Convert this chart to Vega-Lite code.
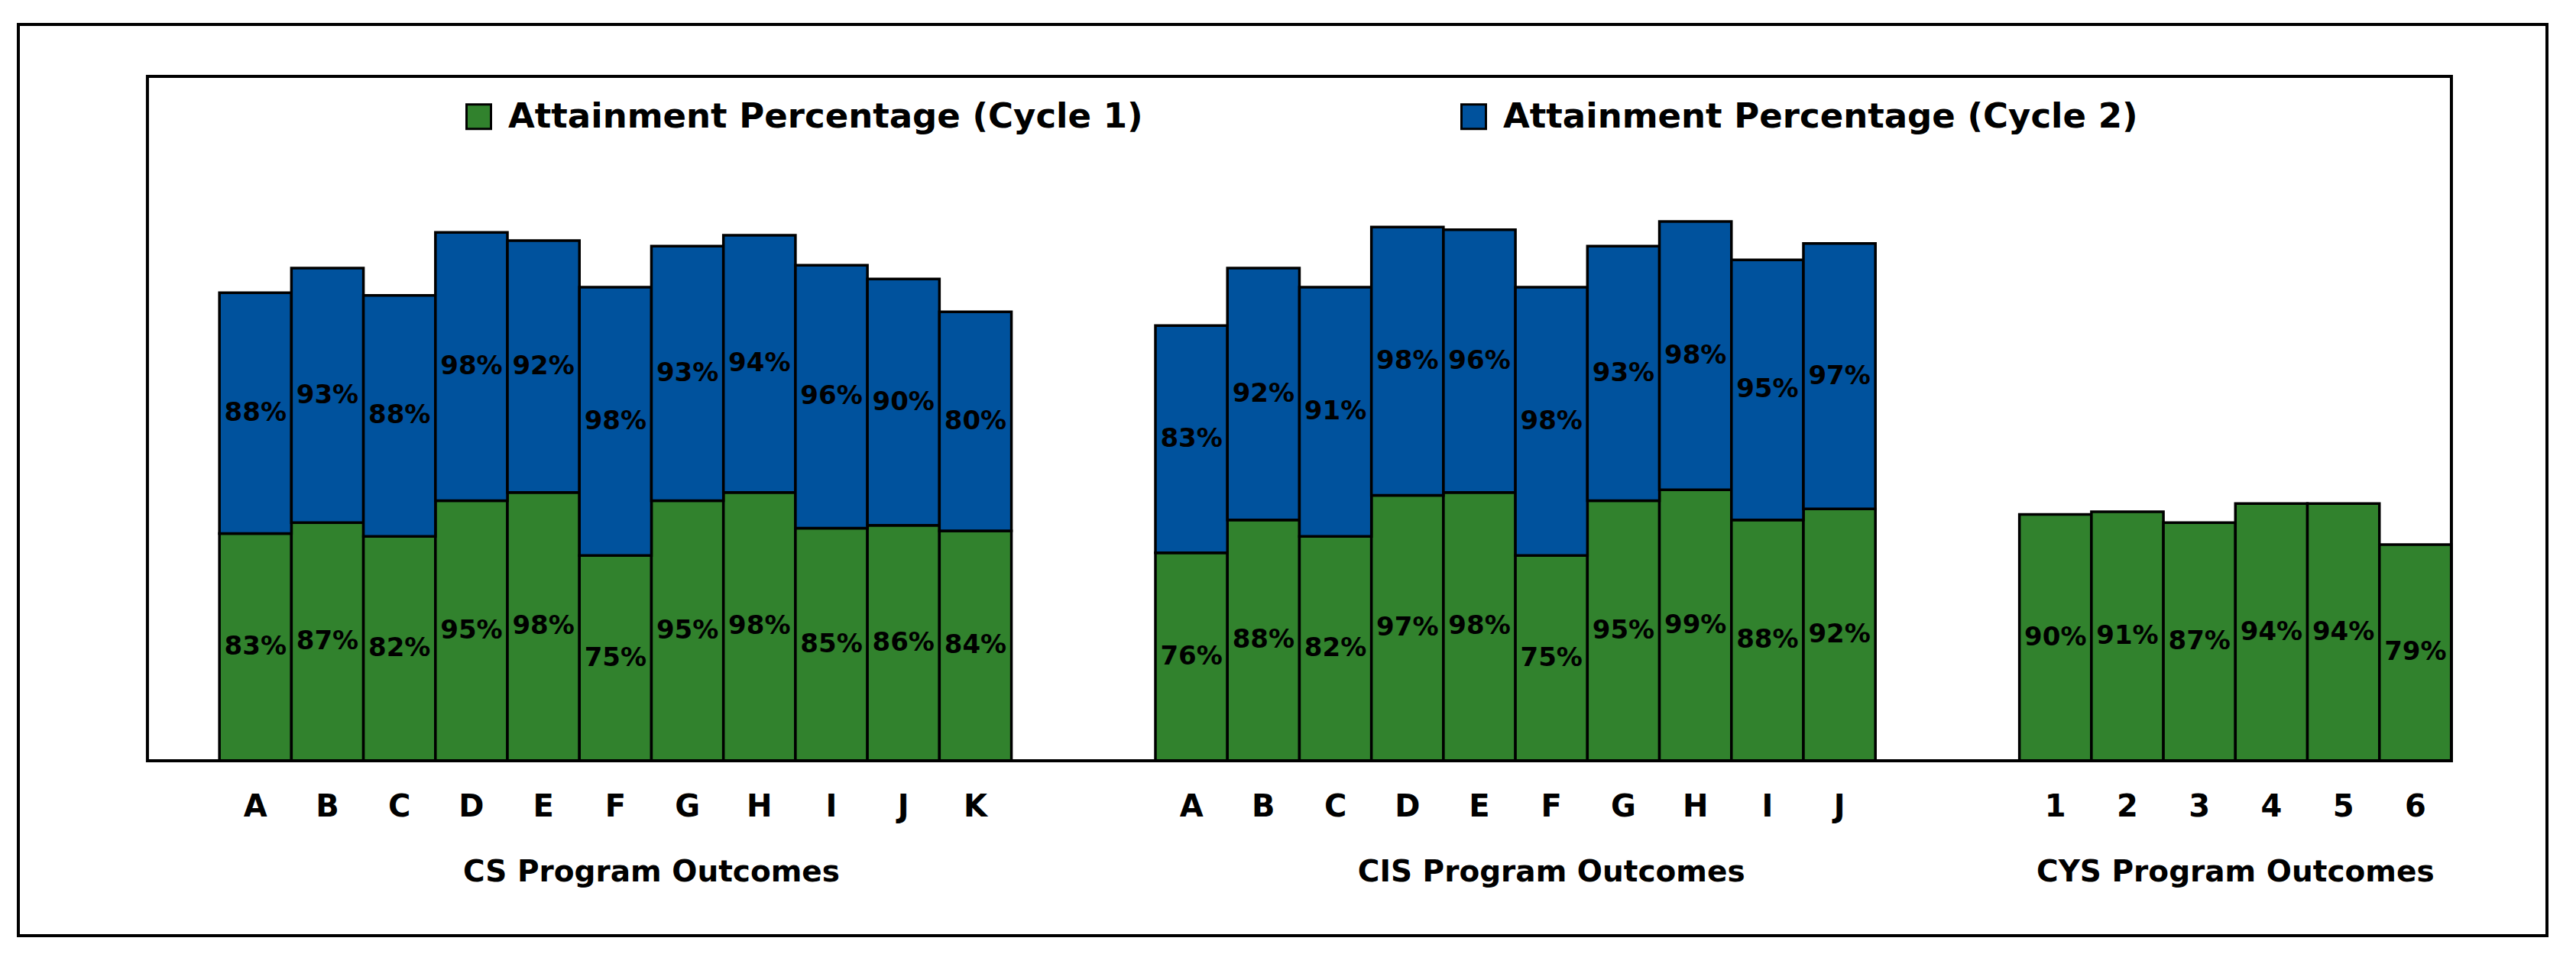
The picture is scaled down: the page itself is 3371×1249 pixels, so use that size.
{
  "$schema": "https://vega.github.io/schema/vega-lite/v6.json",
  "width": 3309,
  "height": 1193,
  "autosize": {"type": "none"},
  "padding": {"left": 24, "top": 32, "right": 38, "bottom": 24},
  "background": "white",
  "config": {
    "view": {"stroke": "black", "strokeWidth": 4},
    "font": "DejaVu Sans"
  },
  "data": {
    "values": [
      {"kind": "bar", "slot": "CS-A", "series": "Attainment Percentage (Cycle 1)", "pct": 0.83},
      {"kind": "bar", "slot": "CS-B", "series": "Attainment Percentage (Cycle 1)", "pct": 0.87},
      {"kind": "bar", "slot": "CS-C", "series": "Attainment Percentage (Cycle 1)", "pct": 0.82},
      {"kind": "bar", "slot": "CS-D", "series": "Attainment Percentage (Cycle 1)", "pct": 0.95},
      {"kind": "bar", "slot": "CS-E", "series": "Attainment Percentage (Cycle 1)", "pct": 0.98},
      {"kind": "bar", "slot": "CS-F", "series": "Attainment Percentage (Cycle 1)", "pct": 0.75},
      {"kind": "bar", "slot": "CS-G", "series": "Attainment Percentage (Cycle 1)", "pct": 0.95},
      {"kind": "bar", "slot": "CS-H", "series": "Attainment Percentage (Cycle 1)", "pct": 0.98},
      {"kind": "bar", "slot": "CS-I", "series": "Attainment Percentage (Cycle 1)", "pct": 0.85},
      {"kind": "bar", "slot": "CS-J", "series": "Attainment Percentage (Cycle 1)", "pct": 0.86},
      {"kind": "bar", "slot": "CS-K", "series": "Attainment Percentage (Cycle 1)", "pct": 0.84},
      {"kind": "bar", "slot": "CS-A", "series": "Attainment Percentage (Cycle 2)", "pct": 0.88},
      {"kind": "bar", "slot": "CS-B", "series": "Attainment Percentage (Cycle 2)", "pct": 0.93},
      {"kind": "bar", "slot": "CS-C", "series": "Attainment Percentage (Cycle 2)", "pct": 0.88},
      {"kind": "bar", "slot": "CS-D", "series": "Attainment Percentage (Cycle 2)", "pct": 0.98},
      {"kind": "bar", "slot": "CS-E", "series": "Attainment Percentage (Cycle 2)", "pct": 0.92},
      {"kind": "bar", "slot": "CS-F", "series": "Attainment Percentage (Cycle 2)", "pct": 0.98},
      {"kind": "bar", "slot": "CS-G", "series": "Attainment Percentage (Cycle 2)", "pct": 0.93},
      {"kind": "bar", "slot": "CS-H", "series": "Attainment Percentage (Cycle 2)", "pct": 0.94},
      {"kind": "bar", "slot": "CS-I", "series": "Attainment Percentage (Cycle 2)", "pct": 0.96},
      {"kind": "bar", "slot": "CS-J", "series": "Attainment Percentage (Cycle 2)", "pct": 0.90},
      {"kind": "bar", "slot": "CS-K", "series": "Attainment Percentage (Cycle 2)", "pct": 0.80},
      {"kind": "bar", "slot": "CIS-A", "series": "Attainment Percentage (Cycle 1)", "pct": 0.76},
      {"kind": "bar", "slot": "CIS-B", "series": "Attainment Percentage (Cycle 1)", "pct": 0.88},
      {"kind": "bar", "slot": "CIS-C", "series": "Attainment Percentage (Cycle 1)", "pct": 0.82},
      {"kind": "bar", "slot": "CIS-D", "series": "Attainment Percentage (Cycle 1)", "pct": 0.97},
      {"kind": "bar", "slot": "CIS-E", "series": "Attainment Percentage (Cycle 1)", "pct": 0.98},
      {"kind": "bar", "slot": "CIS-F", "series": "Attainment Percentage (Cycle 1)", "pct": 0.75},
      {"kind": "bar", "slot": "CIS-G", "series": "Attainment Percentage (Cycle 1)", "pct": 0.95},
      {"kind": "bar", "slot": "CIS-H", "series": "Attainment Percentage (Cycle 1)", "pct": 0.99},
      {"kind": "bar", "slot": "CIS-I", "series": "Attainment Percentage (Cycle 1)", "pct": 0.88},
      {"kind": "bar", "slot": "CIS-J", "series": "Attainment Percentage (Cycle 1)", "pct": 0.92},
      {"kind": "bar", "slot": "CIS-A", "series": "Attainment Percentage (Cycle 2)", "pct": 0.83},
      {"kind": "bar", "slot": "CIS-B", "series": "Attainment Percentage (Cycle 2)", "pct": 0.92},
      {"kind": "bar", "slot": "CIS-C", "series": "Attainment Percentage (Cycle 2)", "pct": 0.91},
      {"kind": "bar", "slot": "CIS-D", "series": "Attainment Percentage (Cycle 2)", "pct": 0.98},
      {"kind": "bar", "slot": "CIS-E", "series": "Attainment Percentage (Cycle 2)", "pct": 0.96},
      {"kind": "bar", "slot": "CIS-F", "series": "Attainment Percentage (Cycle 2)", "pct": 0.98},
      {"kind": "bar", "slot": "CIS-G", "series": "Attainment Percentage (Cycle 2)", "pct": 0.93},
      {"kind": "bar", "slot": "CIS-H", "series": "Attainment Percentage (Cycle 2)", "pct": 0.98},
      {"kind": "bar", "slot": "CIS-I", "series": "Attainment Percentage (Cycle 2)", "pct": 0.95},
      {"kind": "bar", "slot": "CIS-J", "series": "Attainment Percentage (Cycle 2)", "pct": 0.97},
      {"kind": "bar", "slot": "CYS-1", "series": "Attainment Percentage (Cycle 1)", "pct": 0.90},
      {"kind": "bar", "slot": "CYS-2", "series": "Attainment Percentage (Cycle 1)", "pct": 0.91},
      {"kind": "bar", "slot": "CYS-3", "series": "Attainment Percentage (Cycle 1)", "pct": 0.87},
      {"kind": "bar", "slot": "CYS-4", "series": "Attainment Percentage (Cycle 1)", "pct": 0.94},
      {"kind": "bar", "slot": "CYS-5", "series": "Attainment Percentage (Cycle 1)", "pct": 0.94},
      {"kind": "bar", "slot": "CYS-6", "series": "Attainment Percentage (Cycle 1)", "pct": 0.79},
      {"kind": "title", "slot": "CS-G", "group": "CS Program Outcomes"},
      {"kind": "title", "slot": "CYS-4", "group": "CYS Program Outcomes"},
      {"kind": "title-mid", "slot": "CIS-F", "group": "CIS Program Outcomes"},
      {"kind": "frame", "slot": "pad0"}
    ]
  },
  "layer": [
    {
      "transform": [{"filter": "datum.kind == 'bar'"}],
      "mark": {"type": "bar", "stroke": "black", "strokeWidth": 3.5},
      "encoding": {
        "x": {
          "field": "slot",
          "type": "nominal",
          "sort": null,
          "scale": {
            "domain": ["padL", "pad0", "CS-A", "CS-B", "CS-C", "CS-D", "CS-E", "CS-F", "CS-G", "CS-H", "CS-I", "CS-J", "CS-K", "pad1", "pad2", "CIS-A", "CIS-B", "CIS-C", "CIS-D", "CIS-E", "CIS-F", "CIS-G", "CIS-H", "CIS-I", "CIS-J", "pad3", "pad4", "CYS-1", "CYS-2", "CYS-3", "CYS-4", "CYS-5", "CYS-6", "padR"],
            "paddingInner": 0,
            "paddingOuter": 0.56,
            "align": 0.708
          },
          "axis": {
            "orient": "bottom",
            "title": null,
            "labelExpr": "indexof(datum.value, 'pad') == 0 ? '' : split(datum.value, '-')[1]",
            "domain": false,
            "ticks": false,
            "tickSize": 0,
            "grid": false,
            "labelAngle": 0,
            "labelPadding": 40,
            "labelFont": "DejaVu Sans",
            "labelFontWeight": "bold",
            "labelFontSize": 40,
            "labelColor": "black",
            "labelOverlap": false,
            "offset": -229
          }
        },
        "y": {
          "field": "pct",
          "type": "quantitative",
          "stack": "zero",
          "scale": {"domain": [-0.639, 2.69], "nice": false, "zero": false},
          "axis": null
        },
        "color": {
          "field": "series",
          "type": "nominal",
          "scale": {
            "domain": ["Attainment Percentage (Cycle 1)", "Attainment Percentage (Cycle 2)"],
            "range": ["#31822D", "#00529D"]
          },
          "legend": {
            "orient": "none",
            "legendX": 580,
            "legendY": 98,
            "direction": "horizontal",
            "title": null,
            "padding": 0,
            "symbolType": "square",
            "symbolSize": 1024,
            "symbolStrokeColor": "black",
            "symbolStrokeWidth": 3,
            "symbolOpacity": 1,
            "labelFont": "DejaVu Sans",
            "labelFontWeight": "bold",
            "labelFontSize": 45,
            "labelColor": "black",
            "labelLimit": 2000,
            "labelOffset": 16,
            "columnPadding": 410
          }
        },
        "order": {"field": "series", "sort": "ascending"}
      }
    },
    {
      "transform": [
        {"filter": "datum.kind == 'bar'"},
        {"stack": "pct", "groupby": ["slot"], "sort": [{"field": "series", "order": "ascending"}], "as": ["lo", "hi"]},
        {"calculate": "(datum.lo + datum.hi) / 2", "as": "mid"}
      ],
      "mark": {"type": "text", "font": "DejaVu Sans", "fontWeight": "bold", "fontSize": 34, "color": "black", "align": "center", "baseline": "middle"},
      "encoding": {
        "x": {"field": "slot", "type": "nominal", "sort": null},
        "y": {"field": "mid", "type": "quantitative"},
        "text": {"field": "pct", "type": "quantitative", "format": ".0%"}
      }
    },
    {
      "transform": [{"filter": "datum.kind == 'frame'"}],
      "mark": {"type": "rect", "fill": "transparent", "stroke": "black", "strokeWidth": 4},
      "encoding": {
        "x": {"field": "slot", "type": "nominal", "bandPosition": 0},
        "x2": {"datum": "padR", "bandPosition": 0},
        "y": {"datum": 0, "type": "quantitative"},
        "y2": {"datum": 2.5}
      }
    },
    {
      "transform": [{"filter": "datum.kind == 'title'"}],
      "mark": {"type": "text", "font": "DejaVu Sans", "fontWeight": "bold", "fontSize": 39, "color": "black", "align": "center", "baseline": "middle"},
      "encoding": {
        "x": {"field": "slot", "type": "nominal", "bandPosition": 0},
        "y": {"datum": -0.407, "type": "quantitative"},
        "text": {"field": "group", "type": "nominal"}
      }
    },
    {
      "transform": [{"filter": "datum.kind == 'title-mid'"}],
      "mark": {"type": "text", "font": "DejaVu Sans", "fontWeight": "bold", "fontSize": 39, "color": "black", "align": "center", "baseline": "middle"},
      "encoding": {
        "x": {"field": "slot", "type": "nominal", "bandPosition": 0.5},
        "y": {"datum": -0.407, "type": "quantitative"},
        "text": {"field": "group", "type": "nominal"}
      }
    }
  ]
}
